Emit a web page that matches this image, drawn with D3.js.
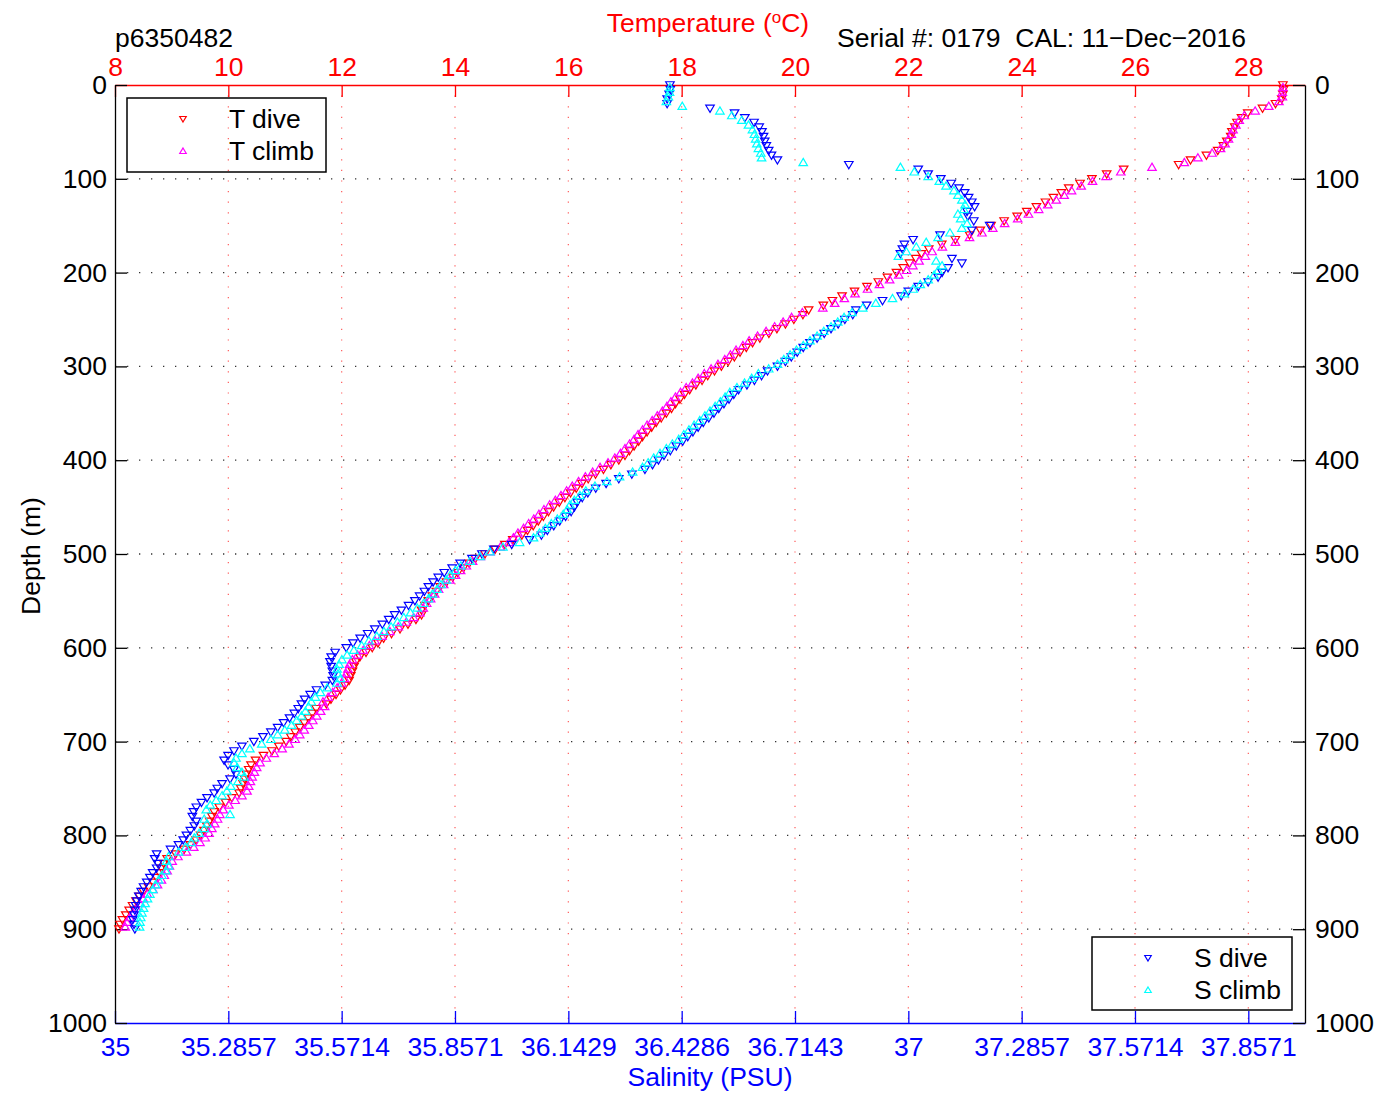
<!DOCTYPE html>
<html>
<head>
<meta charset="utf-8">
<script src="https://cdn.jsdelivr.net/npm/d3@7"></script>
<style>
  body { margin: 0; background: #fff; }
  svg text { font-family: "Liberation Sans", Arial, Helvetica, sans-serif; }
</style>
</head>
<body>
<svg id="plot" width="1390" height="1095"></svg>
<script>
let width = 1390, height = 1095;
let margin = {top: 85, right: 85, bottom: 72, left: 115};
let fontSize = 26.5;

let tempTicks = [8, 10, 12, 14, 16, 18, 20, 22, 24, 26, 28];
let salTicks = [35, 35.2857, 35.5714, 35.8571, 36.1429, 36.4286, 36.7143, 37, 37.2857, 37.5714, 37.8571];
let depthTicks = [0, 100, 200, 300, 400, 500, 600, 700, 800, 900, 1000];

// dive samples (depth m, temperature degC, salinity PSU)
let diveDepth = [
  0, 5, 10, 15, 20, 25, 30, 35, 40, 45, 50, 55, 60, 65, 70, 75, 80, 85, 90, 95,
  100, 105, 110, 115, 120, 125, 130, 135, 140, 145, 150, 155, 160, 165, 170, 175, 180, 185, 190, 195,
  200, 205, 210, 215, 220, 225, 230, 235, 240, 245, 250, 255, 260, 265, 270, 275, 280, 285, 290, 295,
  300, 305, 310, 315, 320, 325, 330, 335, 340, 345, 350, 355, 360, 365, 370, 375, 380, 385, 390, 395,
  400, 405, 410, 415, 420, 425, 430, 435, 440, 445, 450, 455, 460, 465, 470, 475, 480, 485, 490, 495,
  500, 505, 510, 515, 520, 525, 530, 535, 540, 545, 550, 555, 560, 565, 570, 575, 580, 585, 590, 595,
  600, 605, 610, 615, 620, 625, 630, 635, 640, 645, 650, 655, 660, 665, 670, 675, 680, 685, 690, 695,
  700, 705, 710, 715, 720, 725, 730, 735, 740, 745, 750, 755, 760, 765, 770, 775, 780, 785, 790, 795,
  800, 805, 810, 815, 820, 825, 830, 835, 840, 845, 850, 855, 860, 865, 870, 875, 880, 885, 890, 895,
  900];

let diveTemp = [
  28.61, 28.62, 28.61, 28.59, 28.48, 28.25, 27.99, 27.88, 27.80, 27.76,
  27.71, 27.69, 27.62, 27.56, 27.46, 27.26, 26.98, 26.77, 25.80, 25.50,
  25.24, 25.03, 24.83, 24.70, 24.56, 24.42, 24.26, 24.09, 23.92, 23.69,
  23.46, 23.27, 23.08, 22.83, 22.59, 22.36, 22.23, 22.13, 22.02, 21.91,
  21.79, 21.63, 21.47, 21.27, 21.05, 20.83, 20.66, 20.50, 20.24, 20.14,
  19.98, 19.83, 19.68, 19.54, 19.38, 19.25, 19.14, 19.03, 18.93, 18.82,
  18.70, 18.58, 18.46, 18.36, 18.25, 18.14, 18.05, 17.97, 17.89, 17.82,
  17.73, 17.64, 17.55, 17.47, 17.39, 17.31, 17.24, 17.16, 17.08, 17.00,
  16.89, 16.75, 16.62, 16.48, 16.35, 16.24, 16.14, 16.04, 15.94, 15.84,
  15.74, 15.65, 15.56, 15.47, 15.38, 15.28, 15.18, 15.02, 14.88, 14.71,
  14.53, 14.36, 14.25, 14.15, 14.05, 13.96, 13.85, 13.74, 13.67, 13.60,
  13.53, 13.47, 13.41, 13.41, 13.31, 13.17, 13.03, 12.88, 12.74, 12.64,
  12.54, 12.43, 12.32, 12.25, 12.22, 12.19, 12.16, 12.13, 12.06, 11.98,
  11.90, 11.81, 11.73, 11.55, 11.48, 11.41, 11.34, 11.26, 11.18, 11.10,
  11.02, 10.89, 10.77, 10.62, 10.48, 10.40, 10.36, 10.32, 10.29, 10.26,
  10.22, 10.19, 10.06, 9.95, 9.84, 9.75, 9.71, 9.67, 9.62, 9.57,
  9.51, 9.43, 9.33, 9.22, 9.07, 8.92, 8.86, 8.82, 8.78, 8.73,
  8.67, 8.59, 8.50, 8.43, 8.37, 8.31, 8.25, 8.19, 8.13, 8.09,
  8.07];

let diveSal = [
  36.399, 36.400, 36.397, 36.392, 36.392, 36.500, 36.562, 36.588, 36.611, 36.624,
  36.631, 36.635, 36.638, 36.642, 36.648, 36.655, 36.670, 36.850, 37.025, 37.050,
  37.082, 37.108, 37.128, 37.142, 37.152, 37.160, 37.167, 37.148, 37.150, 37.165,
  37.205, 37.160, 37.080, 37.012, 36.990, 36.985, 36.980, 37.110, 37.135, 37.100,
  37.085, 37.075, 37.050, 37.025, 37.000, 36.982, 36.935, 36.895, 36.868, 36.860,
  36.840, 36.823, 36.805, 36.788, 36.770, 36.752, 36.735, 36.720, 36.705, 36.690,
  36.670, 36.645, 36.630, 36.612, 36.593, 36.572, 36.560, 36.548, 36.535, 36.522,
  36.510, 36.497, 36.483, 36.470, 36.457, 36.444, 36.431, 36.415, 36.400, 36.384,
  36.370, 36.355, 36.336, 36.303, 36.270, 36.238, 36.212, 36.192, 36.178, 36.165,
  36.158, 36.150, 36.136, 36.121, 36.106, 36.090, 36.075, 36.045, 36.000, 35.955,
  35.925, 35.900, 35.870, 35.850, 35.830, 35.815, 35.802, 35.790, 35.780, 35.768,
  35.756, 35.740, 35.722, 35.705, 35.690, 35.674, 35.655, 35.637, 35.618, 35.600,
  35.583, 35.555, 35.545, 35.542, 35.545, 35.548, 35.550, 35.548, 35.530, 35.508,
  35.492, 35.478, 35.470, 35.462, 35.452, 35.440, 35.425, 35.410, 35.393, 35.373,
  35.350, 35.320, 35.300, 35.285, 35.275, 35.285, 35.300, 35.305, 35.290, 35.270,
  35.258, 35.250, 35.232, 35.218, 35.205, 35.198, 35.195, 35.205, 35.200, 35.190,
  35.180, 35.172, 35.160, 35.140, 35.105, 35.100, 35.108, 35.105, 35.095, 35.088,
  35.080, 35.072, 35.066, 35.060, 35.055, 35.052, 35.050, 35.048, 35.045, 35.048,
  35.050];

// climb samples
let climbDepth = [
  2.5, 7.5, 12.5, 17.5, 22.5, 27.5, 32.5, 37.5, 42.5, 47.5, 52.5, 57.5, 62.5, 67.5, 72.5, 77.5, 82.5, 87.5, 92.5, 97.5,
  102.5, 107.5, 112.5, 117.5, 122.5, 127.5, 132.5, 137.5, 142.5, 147.5, 152.5, 157.5, 162.5, 167.5, 172.5, 177.5, 182.5, 187.5, 192.5, 197.5,
  202.5, 207.5, 212.5, 217.5, 222.5, 227.5, 232.5, 237.5, 242.5, 247.5, 252.5, 257.5, 262.5, 267.5, 272.5, 277.5, 282.5, 287.5, 292.5, 297.5,
  302.5, 307.5, 312.5, 317.5, 322.5, 327.5, 332.5, 337.5, 342.5, 347.5, 352.5, 357.5, 362.5, 367.5, 372.5, 377.5, 382.5, 387.5, 392.5, 397.5,
  402.5, 407.5, 412.5, 417.5, 422.5, 427.5, 432.5, 437.5, 442.5, 447.5, 452.5, 457.5, 462.5, 467.5, 472.5, 477.5, 482.5, 487.5, 492.5, 497.5,
  502.5, 507.5, 512.5, 517.5, 522.5, 527.5, 532.5, 537.5, 542.5, 547.5, 552.5, 557.5, 562.5, 567.5, 572.5, 577.5, 582.5, 587.5, 592.5, 597.5,
  602.5, 607.5, 612.5, 617.5, 622.5, 627.5, 632.5, 637.5, 642.5, 647.5, 652.5, 657.5, 662.5, 667.5, 672.5, 677.5, 682.5, 687.5, 692.5, 697.5,
  702.5, 707.5, 712.5, 717.5, 722.5, 727.5, 732.5, 737.5, 742.5, 747.5, 752.5, 757.5, 762.5, 767.5, 772.5, 777.5, 782.5, 787.5, 792.5, 797.5,
  802.5, 807.5, 812.5, 817.5, 822.5, 827.5, 832.5, 837.5, 842.5, 847.5, 852.5, 857.5, 862.5, 867.5, 872.5, 877.5, 882.5, 887.5, 892.5, 897.5];

let climbTemp = [
  28.61, 28.60, 28.60, 28.54, 28.36, 28.12, 27.93, 27.84, 27.78, 27.73,
  27.70, 27.65, 27.59, 27.51, 27.36, 27.11, 26.87, 26.30, 25.75, 25.49,
  25.25, 25.05, 24.88, 24.75, 24.61, 24.46, 24.30, 24.12, 23.93, 23.70,
  23.49, 23.30, 23.08, 22.83, 22.60, 22.42, 22.30, 22.19, 22.08, 21.97,
  21.83, 21.67, 21.49, 21.28, 21.06, 20.87, 20.70, 20.49, 20.13, 19.94,
  19.79, 19.64, 19.49, 19.34, 19.19, 19.08, 18.96, 18.86, 18.76, 18.64,
  18.52, 18.40, 18.29, 18.19, 18.08, 17.98, 17.89, 17.81, 17.74, 17.66,
  17.57, 17.48, 17.39, 17.31, 17.23, 17.16, 17.08, 17.00, 16.92, 16.82,
  16.70, 16.56, 16.43, 16.30, 16.18, 16.07, 15.97, 15.87, 15.77, 15.67,
  15.57, 15.48, 15.39, 15.30, 15.21, 15.11, 15.03, 14.95, 14.80, 14.62,
  14.45, 14.31, 14.20, 14.10, 14.01, 13.91, 13.80, 13.71, 13.64, 13.57,
  13.50, 13.44, 13.38, 13.27, 13.14, 13.00, 12.85, 12.71, 12.59, 12.49,
  12.38, 12.28, 12.19, 12.14, 12.11, 12.08, 12.05, 12.00, 11.92, 11.84,
  11.76, 11.67, 11.70, 11.63, 11.56, 11.49, 11.42, 11.34, 11.26, 11.18,
  11.07, 10.95, 10.81, 10.67, 10.56, 10.50, 10.46, 10.42, 10.39, 10.36,
  10.33, 10.24, 10.12, 10.01, 9.91, 9.85, 9.81, 9.76, 9.71, 9.66,
  9.59, 9.50, 9.39, 9.26, 9.11, 9.01, 8.96, 8.92, 8.87, 8.82,
  8.75, 8.67, 8.57, 8.50, 8.44, 8.38, 8.32, 8.26, 8.21, 8.18];

let climbSal = [
  36.399, 36.398, 36.395, 36.390, 36.430, 36.525, 36.555, 36.580, 36.597, 36.607,
  36.612, 36.615, 36.618, 36.622, 36.628, 36.630, 36.735, 36.980, 37.015, 37.050,
  37.078, 37.095, 37.115, 37.125, 37.135, 37.143, 37.140, 37.125, 37.132, 37.148,
  37.135, 37.105, 37.075, 37.045, 37.020, 36.995, 36.975, 37.070, 37.085, 37.075,
  37.065, 37.050, 37.030, 37.012, 36.990, 36.960, 36.918, 36.885, 36.858, 36.838,
  36.822, 36.805, 36.787, 36.770, 36.752, 36.735, 36.718, 36.702, 36.686, 36.670,
  36.648, 36.622, 36.605, 36.587, 36.568, 36.550, 36.538, 36.526, 36.513, 36.500,
  36.487, 36.474, 36.460, 36.447, 36.434, 36.421, 36.405, 36.390, 36.374, 36.358,
  36.344, 36.330, 36.305, 36.272, 36.240, 36.210, 36.187, 36.172, 36.158, 36.147,
  36.140, 36.130, 36.115, 36.100, 36.085, 36.070, 36.055, 36.020, 35.978, 35.945,
  35.920, 35.895, 35.872, 35.858, 35.845, 35.835, 35.822, 35.812, 35.800, 35.790,
  35.778, 35.762, 35.745, 35.728, 35.712, 35.696, 35.678, 35.660, 35.640, 35.622,
  35.602, 35.585, 35.572, 35.565, 35.560, 35.562, 35.568, 35.560, 35.535, 35.518,
  35.505, 35.495, 35.488, 35.480, 35.470, 35.458, 35.445, 35.428, 35.410, 35.393,
  35.370, 35.340, 35.320, 35.305, 35.300, 35.308, 35.320, 35.325, 35.310, 35.292,
  35.282, 35.270, 35.255, 35.240, 35.230, 35.290, 35.225, 35.232, 35.225, 35.212,
  35.200, 35.192, 35.178, 35.160, 35.135, 35.130, 35.135, 35.128, 35.118, 35.110,
  35.102, 35.095, 35.088, 35.082, 35.076, 35.072, 35.068, 35.065, 35.063, 35.062];

let fontFamily = '"Liberation Sans", Arial, Helvetica, sans-serif';

let svg = d3.select("#plot");

let x = d3.scaleLinear()
    .domain([8, 29])
    .range([margin.left, width - margin.right]);

let xS = d3.scaleLinear()
    .domain([35, 38])
    .range([margin.left, width - margin.right]);

let y = d3.scaleLinear()
    .domain([0, 1000])
    .range([margin.top, height - margin.bottom]);

// triangle marker, pointing down for dives and up for climbs
function triangle(s, down) {
  let h = s * 0.85, k = down ? -1 : 1;
  return `M0,${-k * h * 0.55}L${s / 2},${k * h * 0.45}L${-s / 2},${k * h * 0.45}Z`;
}

// grid
svg.append("g")
  .selectAll("line")
  .data(depthTicks.filter(d => d > 0 && d < 1000))
  .join("line")
    .attr("x1", margin.left)
    .attr("x2", width - margin.right)
    .attr("y1", d => y(d))
    .attr("y2", d => y(d))
    .attr("stroke", "#333")
    .attr("stroke-width", 1.3)
    .attr("stroke-dasharray", "1.3,10.7");

svg.append("g")
  .selectAll("line")
  .data(tempTicks.filter(d => d > 8))
  .join("line")
    .attr("x1", d => x(d))
    .attr("x2", d => x(d))
    .attr("y1", margin.top)
    .attr("y2", height - margin.bottom)
    .attr("stroke", "#ff5a5a")
    .attr("stroke-width", 1.2)
    .attr("stroke-dasharray", "1.2,9.4");

// axes
let styleAxis = (g, colour) => g
    .attr("font-size", fontSize)
    .attr("font-family", fontFamily)
    .call(g => g.select(".domain").attr("stroke", colour).attr("stroke-width", 1.3))
    .call(g => g.selectAll(".tick line").attr("stroke", colour).attr("stroke-width", 1.3))
    .call(g => g.selectAll(".tick text").attr("fill", colour));

svg.append("g")
    .attr("transform", `translate(0, ${margin.top})`)
    .call(d3.axisTop(x).tickValues(tempTicks).tickSize(-12).tickSizeOuter(0).tickPadding(9))
    .call(g => styleAxis(g, "#ff0000"));

svg.append("g")
    .attr("transform", `translate(0, ${height - margin.bottom})`)
    .call(d3.axisBottom(xS).tickValues(salTicks).tickFormat(d => String(d))
            .tickSize(-12).tickSizeOuter(0).tickPadding(14))
    .call(g => styleAxis(g, "#0000ff"));

svg.append("g")
    .attr("transform", `translate(${margin.left}, 0)`)
    .call(d3.axisLeft(y).tickValues(depthTicks).tickFormat(d3.format("d"))
            .tickSize(-12).tickSizeOuter(0).tickPadding(8))
    .call(g => styleAxis(g, "#000"));

svg.append("g")
    .attr("transform", `translate(${width - margin.right}, 0)`)
    .call(d3.axisRight(y).tickValues(depthTicks).tickFormat(d3.format("d"))
            .tickSize(-12).tickSizeOuter(0).tickPadding(10))
    .call(g => styleAxis(g, "#000"));

// data markers
let series = [
  {depth: diveDepth, vals: diveTemp, scale: x, colour: "#ff0000", down: true},
  {depth: climbDepth, vals: climbTemp, scale: x, colour: "#ff00ff", down: false},
  {depth: diveDepth, vals: diveSal, scale: xS, colour: "#0000ff", down: true},
  {depth: climbDepth, vals: climbSal, scale: xS, colour: "#00ffff", down: false}
];

series.forEach(s => {
  svg.append("g")
    .selectAll("path")
    .data(s.vals.map((v, i) => [v, s.depth[i]]))
    .join("path")
      .attr("transform", d => `translate(${s.scale(d[0])}, ${y(d[1])})`)
      .attr("d", triangle(8.5, s.down))
      .attr("fill", "none")
      .attr("stroke", s.colour)
      .attr("stroke-width", 1.2);
});

// titles
svg.append("text")
    .attr("x", 115).attr("y", 47)
    .attr("font-size", fontSize)
    .text("p6350482");

let tTitle = svg.append("text")
    .attr("x", 708).attr("y", 32)
    .attr("font-size", fontSize)
    .attr("fill", "#ff0000")
    .attr("text-anchor", "middle");
tTitle.append("tspan").text("Temperature (");
tTitle.append("tspan").attr("font-size", 17).attr("dy", -9).text("o");
tTitle.append("tspan").attr("dy", 9).text("C)");

svg.append("text")
    .attr("x", 837).attr("y", 47)
    .attr("font-size", fontSize)
    .text("Serial #: 0179  CAL: 11\u2212Dec\u22122016")
    .style("white-space", "pre");

svg.append("text")
    .attr("x", 710).attr("y", 1086)
    .attr("font-size", fontSize)
    .attr("fill", "#0000ff")
    .attr("text-anchor", "middle")
    .text("Salinity (PSU)");

svg.append("text")
    .attr("transform", "translate(40, 556) rotate(-90)")
    .attr("font-size", fontSize)
    .attr("text-anchor", "middle")
    .text("Depth (m)");

// legends
function legend(x0, y0, w, h, items) {
  let g = svg.append("g");
  g.append("rect")
      .attr("x", x0).attr("y", y0)
      .attr("width", w).attr("height", h)
      .attr("fill", "none")
      .attr("stroke", "#000")
      .attr("stroke-width", 1.5);
  items.forEach((it, i) => {
    let cy = y0 + 21 + i * 32;
    g.append("path")
        .attr("transform", `translate(${x0 + 56}, ${cy})`)
        .attr("d", triangle(6.5, it.down))
        .attr("fill", "none")
        .attr("stroke", it.colour)
        .attr("stroke-width", 1.2);
    g.append("text")
        .attr("x", x0 + 102).attr("y", cy + 9)
        .attr("font-size", fontSize)
        .text(it.label);
  });
}

legend(127, 98, 199, 74, [
  {label: "T dive", colour: "#ff0000", down: true},
  {label: "T climb", colour: "#ff00ff", down: false}
]);

legend(1092, 937, 200, 73, [
  {label: "S dive", colour: "#0000ff", down: true},
  {label: "S climb", colour: "#00ffff", down: false}
]);
</script>
</body>
</html>
